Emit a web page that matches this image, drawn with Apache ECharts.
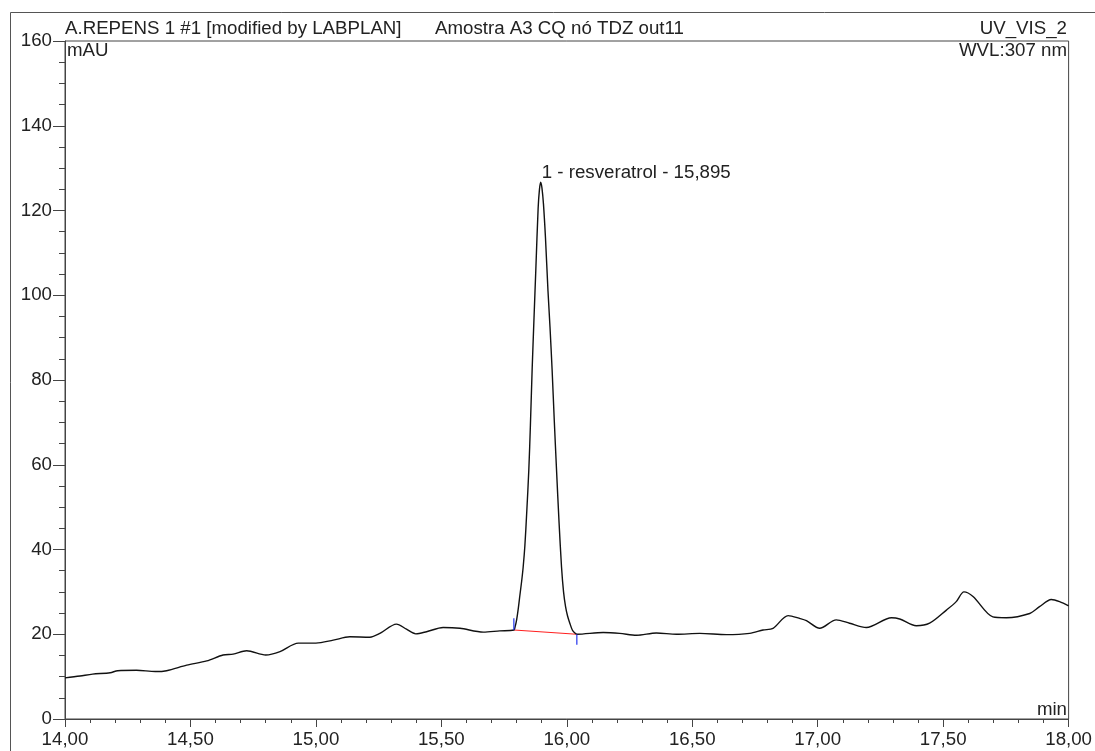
<!DOCTYPE html>
<html>
<head>
<meta charset="utf-8">
<script src="https://cdn.jsdelivr.net/npm/echarts@6/dist/echarts.min.js"></script>
<style>
html,body{margin:0;padding:0;background:#fff;}
#chart{width:1095px;height:751px;}
</style>
</head>
<body>
<div id="chart"></div>
<script>
// Chromatogram trace: retention time (min) and signal (mAU)
var timeMin = [
  14.00, 14.06, 14.11, 14.18, 14.21, 14.285, 14.36, 14.405, 14.485, 14.565,
  14.63, 14.67, 14.724, 14.80, 14.857, 14.93, 15.00, 15.069, 15.135, 15.215,
  15.255, 15.321, 15.361, 15.398, 15.441, 15.507, 15.574, 15.667, 15.733, 15.789,
  15.794, 15.80, 15.806, 15.813, 15.82, 15.826, 15.833, 15.84, 15.8486, 15.855,
  15.8618, 15.8695, 15.8765, 15.8857, 15.891, 15.896, 15.901, 15.907, 15.915, 15.925,
  15.933, 15.9414, 15.95, 15.959, 15.969, 15.979, 15.987, 15.995, 16.003, 16.012,
  16.022, 16.032, 16.04,
  16.145, 16.211, 16.278, 16.357, 16.437, 16.53, 16.636,
  16.729, 16.782, 16.822, 16.882, 16.93, 16.955, 17.008, 17.074, 17.127, 17.194,
  17.294, 17.327, 17.393, 17.446, 17.513, 17.552, 17.583, 17.619, 17.698, 17.752,
  17.845, 17.884, 17.931, 17.964, 18.00
];
var signalMAU = [
  9.7, 10.15, 10.6, 10.9, 11.4, 11.5, 11.2, 11.4, 12.7, 13.7,
  15.1, 15.3, 16.1, 15.1, 15.9, 17.9, 17.9, 18.6, 19.4, 19.3,
  20.2, 22.4, 21.2, 20.1, 20.6, 21.6, 21.4, 20.5, 20.8, 21.0,
  21.8, 23.4, 25.8, 29.2, 32.5, 35.8, 41.0, 48.5, 58.8, 69.5,
  82.4, 95.0, 106.0, 120.5, 125.0, 126.7, 125.3, 121.5, 113.5, 101.0,
  92.5, 82.4, 70.5, 58.8, 46.5, 35.8, 30.0, 26.5, 24.3, 22.6,
  21.0, 20.3, 20.0,
  20.4, 20.2, 19.75, 20.3, 20.0, 20.2, 19.9,
  20.2, 21.0, 21.4, 24.4, 23.7, 23.2, 21.4, 23.4, 22.6, 21.6,
  23.9, 23.6, 22.0, 22.6, 25.7, 27.7, 30.0, 28.9, 24.1, 23.9,
  24.9, 26.5, 28.2, 27.7, 26.7
];
// Integration baseline of peak 1 (start, end)
var baselineTime = [15.789, 16.04];
var baselineMAU = [21.0, 20.0];
// Peak delimiter ticks (start tick goes up, end tick goes down)
var startTickTime = [15.789, 15.789];
var startTickMAU = [21.0, 23.8];
var endTickTime = [16.04, 16.04];
var endTickMAU = [20.0, 17.5];
// Peak annotation
var peakName = '1 - resveratrol - 15,895';
var peakTime = 15.896;
var peakMAU = 126.7;
// Axis ranges
var xMin = 14, xMax = 18, xStep = 0.5;
var yMin = 0, yMax = 160, yStep = 20;
// Header texts
var headerLeft = 'A.REPENS 1 #1 [modified by LABPLAN]';
var headerMid = 'Amostra A3 CQ nó TDZ out11';
var headerRight = 'UV_VIS_2';
var yUnit = 'mAU';
var wvlText = 'WVL:307 nm';
var xUnit = 'min';

function pairs(xs, ys){ return xs.map(function(x,i){ return [x, ys[i]]; }); }

var FONT = '"Liberation Sans", Arial, sans-serif';
var FS = 18.7;
var TXT = '#222';
var AX = '#444';

var chart = echarts.init(document.getElementById('chart'), null, {renderer:'canvas'});
chart.setOption({
  animation: false,
  backgroundColor: '#fff',
  textStyle: {fontFamily: FONT},
  grid: {left: 65, right: 26, top: 41, bottom: 32, show: true, borderColor: AX, borderWidth: 1, backgroundColor: 'transparent'},
  xAxis: {
    type: 'value', min: xMin, max: xMax, interval: xStep,
    axisLine: {show: true, lineStyle: {color: AX, width: 1}},
    axisTick: {show: true, inside: false, length: 8, lineStyle: {color: AX}},
    minorTick: {show: true, splitNumber: 5, length: 4, lineStyle: {color: AX}},
    splitLine: {show: false},
    axisLabel: {fontSize: FS, color: TXT, fontFamily: FONT, margin: 11,
      formatter: function(v){ return v.toFixed(2).replace('.', ','); }}
  },
  yAxis: {
    type: 'value', min: yMin, max: yMax, interval: yStep,
    axisLine: {show: true, lineStyle: {color: AX, width: 1}},
    axisTick: {show: true, inside: false, length: 12, lineStyle: {color: AX}},
    minorTick: {show: true, splitNumber: 4, length: 6, lineStyle: {color: AX}},
    splitLine: {show: false},
    axisLabel: {fontSize: FS, color: TXT, fontFamily: FONT, margin: 13}
  },
  series: [
    {
      type: 'line', data: pairs(timeMin, signalMAU), showSymbol: false, smooth: 0.3,
      lineStyle: {color: '#111', width: 1.4},
      markPoint: {
        symbol: 'circle', symbolSize: 0,
        data: [{coord: [peakTime, peakMAU]}],
        label: {show: true, position: 'right', distance: 1, offset: [0, -9],
          formatter: peakName, fontSize: FS, color: TXT, fontFamily: FONT}
      },
      z: 3
    },
    {type: 'line', data: pairs(baselineTime, baselineMAU), showSymbol: false,
      lineStyle: {color: '#ff2020', width: 1.2}, z: 2},
    {type: 'line', data: pairs(startTickTime, startTickMAU), showSymbol: false,
      lineStyle: {color: '#2233ee', width: 1.2}, z: 4},
    {type: 'line', data: pairs(endTickTime, endTickMAU), showSymbol: false,
      lineStyle: {color: '#2233ee', width: 1.2}, z: 4}
  ],
  graphic: [
    {type: 'rect', shape: {x: 10.5, y: 12.5, width: 1200, height: 900}, style: {fill: 'none', stroke: '#555', lineWidth: 1}, silent: true},
    {type: 'text', x: 65, y: 29, style: {text: headerLeft, font: FS + 'px ' + FONT, fill: TXT, textVerticalAlign: 'middle'}},
    {type: 'text', x: 435, y: 29, style: {text: headerMid, font: FS + 'px ' + FONT, fill: TXT, textVerticalAlign: 'middle'}},
    {type: 'text', x: 1067, y: 29, style: {text: headerRight, font: FS + 'px ' + FONT, fill: TXT, textAlign: 'right', textVerticalAlign: 'middle'}},
    {type: 'text', x: 67, y: 51, style: {text: yUnit, font: FS + 'px ' + FONT, fill: TXT, textVerticalAlign: 'middle'}},
    {type: 'text', x: 1067, y: 51, style: {text: wvlText, font: FS + 'px ' + FONT, fill: TXT, textAlign: 'right', textVerticalAlign: 'middle'}},
    {type: 'text', x: 1067, y: 710, style: {text: xUnit, font: FS + 'px ' + FONT, fill: TXT, textAlign: 'right', textVerticalAlign: 'middle'}}
  ]
});
</script>
</body>
</html>
